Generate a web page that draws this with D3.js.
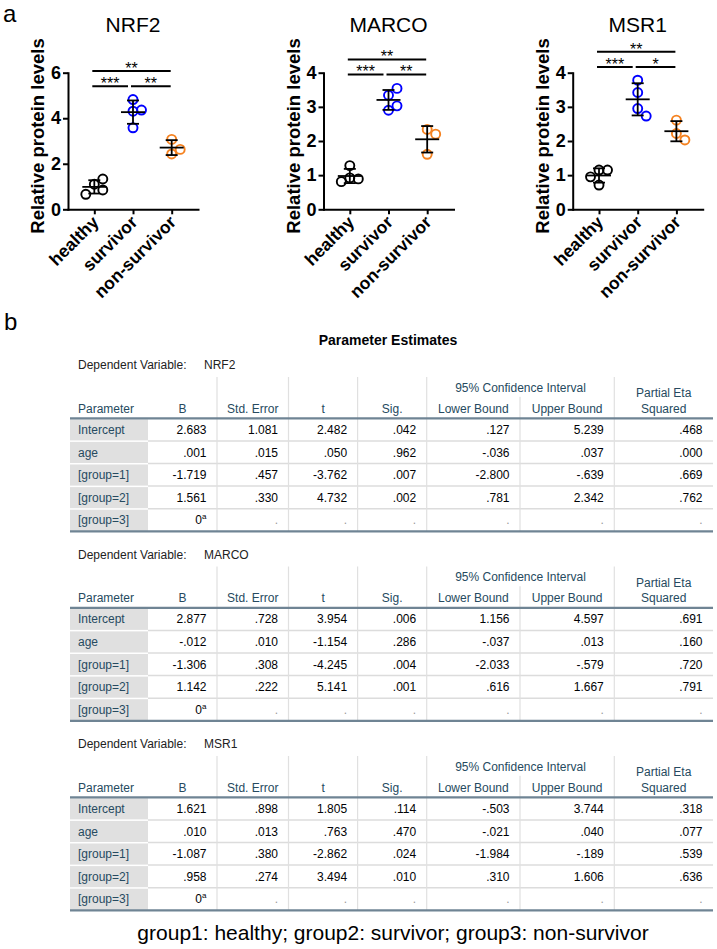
<!DOCTYPE html>
<html><head><meta charset="utf-8">
<script src="https://cdn.jsdelivr.net/npm/d3@7"></script>
<style>body{margin:0;background:#fff} svg{display:block;font-family:"Liberation Sans",Arial,Helvetica,sans-serif}</style>
</head><body><svg id="c" width="717" height="949"></svg>
<script>
// ---------- data ----------
const groups = ["healthy", "survivor", "non-survivor"];

const nrf2Healthy = [1.10, 1.33, 0.85, 0.66];
const nrf2Survivor = [4.82, 4.31, 4.36, 3.58];
const nrf2NonSurvivor = [3.07, 2.63, 2.43];
const marcoHealthy = [1.28, 0.92, 0.89, 0.81];
const marcoSurvivor = [3.34, 3.54, 2.90, 3.03];
const marcoNonSurvivor = [1.61, 2.34, 2.20];
const msr1Healthy = [1.15, 1.15, 0.95, 0.71];
const msr1Survivor = [3.78, 3.42, 2.95, 2.73];
const msr1NonSurvivor = [2.61, 2.22, 2.03];

const nrf2Ticks = [0, 2, 4, 6];
const marcoTicks = [0, 1, 2, 3, 4];
const msr1Ticks = [0, 1, 2, 3, 4];

const nrf2Sig = [{a:0,b:1,label:"***",y:5.41},{a:1,b:2,label:"**",y:5.41},{a:0,b:2,label:"**",y:6.07}];
const marcoSig = [{a:0,b:1,label:"***",y:3.95},{a:1,b:2,label:"**",y:3.95},{a:0,b:2,label:"**",y:4.39}];
const msr1Sig = [{a:0,b:1,label:"***",y:4.17},{a:1,b:2,label:"*",y:4.17},{a:0,b:2,label:"**",y:4.61}];

const tableHeaders = ["Parameter","B","Std. Error","t","Sig.","Lower Bound","Upper Bound","Partial Eta Squared"];
const rowLabels = ["Intercept","age","[group=1]","[group=2]","[group=3]"];
const nrf2Stats = [
  [2.683, 1.081, 2.482, .042, .127, 5.239, .468],
  [.001, .015, .050, .962, -.036, .037, .000],
  [-1.719, .457, -3.762, .007, -2.800, -.639, .669],
  [1.561, .330, 4.732, .002, .781, 2.342, .762]
];
const marcoStats = [
  [2.877, .728, 3.954, .006, 1.156, 4.597, .691],
  [-.012, .010, -1.154, .286, -.037, .013, .160],
  [-1.306, .308, -4.245, .004, -2.033, -.579, .720],
  [1.142, .222, 5.141, .001, .616, 1.667, .791]
];
const msr1Stats = [
  [1.621, .898, 1.805, .114, -.503, 3.744, .318],
  [.010, .013, .763, .470, -.021, .040, .077],
  [-1.087, .380, -2.862, .024, -1.984, -.189, .539],
  [.958, .274, 3.494, .010, .310, 1.606, .636]
];
const footnote = "group1: healthy; group2: survivor; group3: non-survivor";

// ---------- layout ----------
const svg = d3.select("#c");
svg.append("rect").attr("width",717).attr("height",949).attr("fill","#fff");
const colors = ["#000000", "#0000ff", "#f58220"];
const yBottom = 209.3, yTop = 72.7, plotW = 130;

svg.append("text").attr("x",3).attr("y",21.5).attr("font-size",24).text("a");
svg.append("text").attr("x",4).attr("y",330).attr("font-size",24).text("b");

function swarm(values, y, d, T) {
  const cols = {};
  return values.map(v => {
    const py = y(v);
    for (const off of [0, d, -d, 2*d, -2*d]) {
      const c = cols[off] || (cols[off] = []);
      if (c.every(q => Math.abs(q - py) >= T)) { c.push(py); return {v, off}; }
    }
    return {v, off: 0};
  });
}

const panels = [
  {title:"NRF2", x0:68, ticks:nrf2Ticks, data:[nrf2Healthy,nrf2Survivor,nrf2NonSurvivor], sig:nrf2Sig},
  {title:"MARCO", x0:323.5, ticks:marcoTicks, data:[marcoHealthy,marcoSurvivor,marcoNonSurvivor], sig:marcoSig},
  {title:"MSR1", x0:572.7, ticks:msr1Ticks, data:[msr1Healthy,msr1Survivor,msr1NonSurvivor], sig:msr1Sig}
];

panels.forEach(p => {
  const g = svg.append("g");
  const y = d3.scaleLinear().domain([0, d3.max(p.ticks)]).range([yBottom, yTop]);
  const x = d3.scalePoint().domain(groups).range([p.x0, p.x0 + plotW]).padding(0.68);

  g.append("text").attr("x", p.x0 + plotW/2).attr("y", 32).attr("text-anchor","middle")
    .attr("font-size", 21).text(p.title);
  g.append("text").attr("transform", `translate(${p.x0 - 24},136) rotate(-90)`)
    .attr("text-anchor","middle").attr("font-size",18.5).attr("font-weight","bold")
    .text("Relative protein levels");

  const ya = g.append("g").attr("transform", `translate(${p.x0},0)`)
    .call(d3.axisLeft(y).tickValues(p.ticks).tickFormat(d3.format("d")).tickSize(5).tickSizeOuter(0).tickPadding(2));
  ya.select(".domain").attr("stroke-width",2).attr("stroke-linecap","square");
  ya.selectAll(".tick line").attr("stroke-width",2);
  ya.selectAll("text").attr("font-size",18).attr("font-weight","bold")
    .attr("font-family",'"Liberation Sans",Arial,sans-serif').attr("fill","#000");

  const xa = g.append("g").attr("transform", `translate(0,${yBottom})`)
    .call(d3.axisBottom(x).tickSize(5).tickSizeOuter(0));
  xa.select(".domain").attr("stroke-width",2).attr("stroke-linecap","square");
  xa.selectAll(".tick line").attr("stroke-width",2);
  xa.selectAll("text").attr("x",0).attr("y",0).attr("dy",null)
    .attr("text-anchor","end").attr("transform","translate(5,14) rotate(-45)")
    .attr("font-size",17.5).attr("font-weight","bold")
    .attr("font-family",'"Liberation Sans",Arial,sans-serif').attr("fill","#000");

  p.data.forEach((vals, gi) => {
    const cx = x(groups[gi]);
    const pts = swarm(vals, y, 8.5, 10.5);
    g.selectAll(null).data(pts).join("circle")
      .attr("cx", d => cx + d.off).attr("cy", d => y(d.v)).attr("r", 4.5)
      .attr("fill","none").attr("stroke", colors[gi]).attr("stroke-width", 1.9);
    const m = d3.mean(vals), s = d3.deviation(vals);
    const eb = g.append("g").attr("stroke","#000").attr("stroke-width",1.8);
    eb.append("line").attr("x1",cx-12).attr("x2",cx+12).attr("y1",y(m)).attr("y2",y(m));
    eb.append("line").attr("x1",cx).attr("x2",cx).attr("y1",y(m-s)).attr("y2",y(m+s));
    eb.append("line").attr("x1",cx-6).attr("x2",cx+6).attr("y1",y(m-s)).attr("y2",y(m-s));
    eb.append("line").attr("x1",cx-6).attr("x2",cx+6).attr("y1",y(m+s)).attr("y2",y(m+s));
  });

  p.sig.forEach(s => {
    const adj = p.sig.some(o => o !== s && o.y === s.y && o.a === s.b);
    const x1 = x(groups[s.a]) - 2, x2 = x(groups[s.b]) - 1 - (adj ? 4 : 0);
    g.append("line").attr("x1",x1).attr("x2",x2).attr("y1",y(s.y)).attr("y2",y(s.y))
      .attr("stroke","#000").attr("stroke-width",2);
    g.append("text").attr("x",(x1+x2)/2).attr("y",y(s.y)+3).attr("text-anchor","middle")
      .attr("font-size",16).text(s.label);
  });
});

// ---------- table ----------
svg.append("text").attr("x",388).attr("y",345).attr("text-anchor","middle")
  .attr("font-size",14).attr("font-weight","bold").attr("fill","#010205").text("Parameter Estimates");

const colEdges = [70,148,217,288.5,357.6,426.7,520,614.3,713];
const rowH = 22.6, labelColor = "#264a60", lineDark = "#6f8494";
const fmt = v => { let s = d3.format(".3f")(Math.abs(v)); if (s.startsWith("0")) s = s.slice(1); return (v < 0 ? "-" : "") + s; };

const tables = [{name:"NRF2", rows:nrf2Stats},{name:"MARCO", rows:marcoStats},{name:"MSR1", rows:msr1Stats}];
tables.forEach((t, ti) => {
  const c = 365 + ti * 189.5;
  const hLine = c + 53.3;
  const bottom = hLine + rowLabels.length * rowH;
  const g = svg.append("g").attr("font-size",12);
  g.append("text").attr("x",78).attr("y",c+4).attr("fill","#222").text("Dependent Variable:");
  g.append("text").attr("x",204).attr("y",c+4).attr("fill","#222").text(t.name);

  rowLabels.forEach((r, ri) => {
    g.append("rect").attr("x",colEdges[0]).attr("y",hLine + ri*rowH + 1).attr("width",colEdges[1]-colEdges[0])
      .attr("height",rowH - 1.5).attr("fill","#e0e0e0");
  });
  for (let ri = 1; ri < rowLabels.length; ri++) {
    g.append("line").attr("x1",colEdges[1]).attr("x2",colEdges[8]).attr("y1",hLine+ri*rowH).attr("y2",hLine+ri*rowH)
      .attr("stroke","#dcdcdc").attr("stroke-width",1.5);
  }
  for (let k = 2; k <= 7; k++) {
    const top = k === 6 ? c + 31.7 : c + 12;
    g.append("line").attr("x1",colEdges[k]).attr("x2",colEdges[k]).attr("y1",top).attr("y2",bottom)
      .attr("stroke","#e0e0e0").attr("stroke-width",1.2);
  }
  [hLine, bottom].forEach(yy => g.append("line").attr("x1",colEdges[0]).attr("x2",colEdges[8])
    .attr("y1",yy).attr("y2",yy).attr("stroke",lineDark).attr("stroke-width",2.2));

  const hb = hLine - 5.5;
  g.append("text").attr("x",78).attr("y",hb).attr("fill",labelColor).text(tableHeaders[0]);
  [1,2,3,4,5,6].forEach(k => {
    g.append("text").attr("x",(colEdges[k]+colEdges[k+1])/2).attr("y",hb).attr("text-anchor","middle")
      .attr("fill",labelColor).text(tableHeaders[k]);
  });
  g.append("text").attr("x",(colEdges[5]+colEdges[7])/2).attr("y",c+26.6).attr("text-anchor","middle")
    .attr("fill",labelColor).text("95% Confidence Interval");
  const pe = tableHeaders[7].split(" ");
  g.append("text").attr("x",(colEdges[7]+colEdges[8])/2).attr("y",c+32).attr("text-anchor","middle")
    .attr("fill",labelColor).text(pe[0] + " " + pe[1]);
  g.append("text").attr("x",(colEdges[7]+colEdges[8])/2).attr("y",hb).attr("text-anchor","middle")
    .attr("fill",labelColor).text(pe[2]);

  rowLabels.forEach((r, ri) => {
    const by = hLine + ri*rowH + rowH/2 + 4.3;
    g.append("text").attr("x",78).attr("y",by).attr("fill",labelColor).text(r);
    if (ri < t.rows.length) {
      t.rows[ri].forEach((v, j) => {
        g.append("text").attr("x",colEdges[j+2]-10.5).attr("y",by).attr("text-anchor","end")
          .attr("fill","#010205").text(fmt(v));
      });
    } else {
      const tx = g.append("text").attr("x",colEdges[2]-10.5).attr("y",by).attr("text-anchor","end").attr("fill","#010205");
      tx.append("tspan").text("0");
      tx.append("tspan").attr("font-size",8).attr("dy",-5).text("a");
      for (let j = 1; j < 7; j++) {
        g.append("text").attr("x",colEdges[j+2]-10.5).attr("y",by).attr("text-anchor","end")
          .attr("fill","#9a9a9a").text(".");
      }
    }
  });
});

svg.append("text").attr("x",393).attr("y",940).attr("text-anchor","middle").attr("font-size",21)
  .attr("fill","#000").text(footnote);
</script>
</body></html>
